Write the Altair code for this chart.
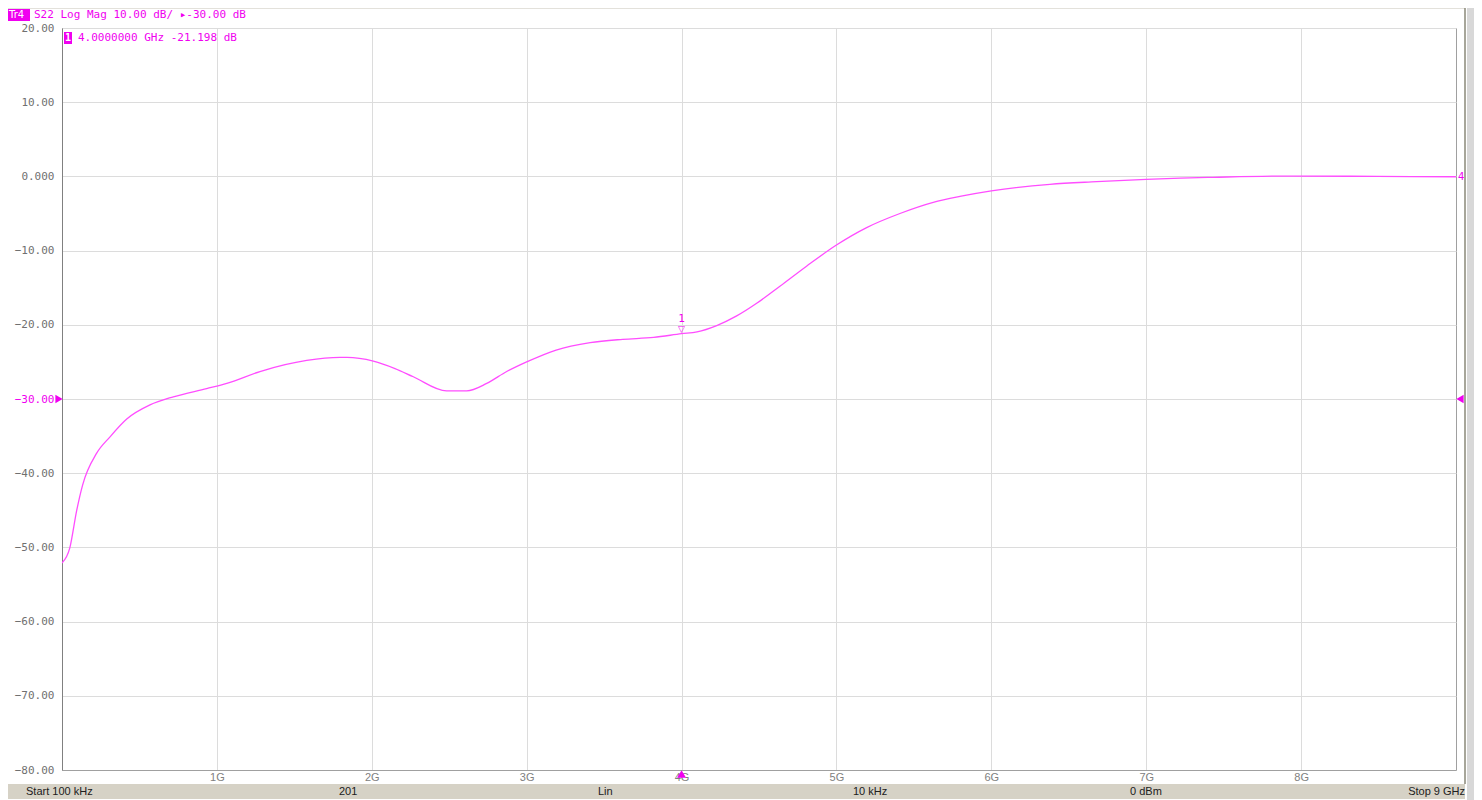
import altair as alt
import pandas as pd

# ---------------- data ----------------
freq_ghz = [0.0001, 0.05, 0.095, 0.133, 0.224, 0.31, 0.418, 0.568, 0.719, 0.934,
            1.064, 1.278, 1.58, 1.795, 1.84, 2.01, 2.15, 2.268, 2.483, 2.613,
            2.742, 2.871, 3.0, 3.19, 3.41, 3.62, 3.82, 4.0, 4.1, 4.227,
            4.356, 4.485, 4.635, 4.807, 5.0, 5.195, 5.41, 5.625, 5.797, 6.0,
            6.378, 6.68, 7.0, 7.22, 7.43, 7.95, 8.49, 9.0]
s22_db = [-52.1, -50.1, -45.0, -41.6, -37.3, -35.1, -32.7, -30.8, -29.7, -28.6,
          -27.9, -26.3, -24.8, -24.4, -24.4, -24.9, -25.9, -27.0, -28.9, -28.9,
          -27.9, -26.3, -25.0, -23.4, -22.4, -21.96, -21.7, -21.198, -20.95, -20.1,
          -18.8, -17.1, -14.8, -12.1, -9.25, -6.9, -5.0, -3.5, -2.7, -1.95,
          -1.07, -0.71, -0.39, -0.22, -0.12, 0.05, 0.0, -0.05]

y_tick_values = [20, 10, 0, -10, -20, -30, -40, -50, -60, -70, -80]
x_tick_values = [1, 2, 3, 4, 5, 6, 7, 8]
ref_level_db = -30.0
marker_freq = 4.0
marker_db = -21.198
marker_number = "1"
trace_number = "4"
trace_tag = "Tr4"
header_text = "S22 Log Mag 10.00 dB/ \u25b8-30.00 dB"
readout_text = "4.0000000 GHz -21.198 dB"
status_texts = ["Start 100 kHz", "201", "Lin", "10 kHz", "0 dBm", "Stop 9 GHz"]

# ---------------- layout / style ----------------
W, H = 1394, 742
TRACE = "#ff4dff"
MAG = "#f000f0"
GRID = "#dcdcdc"
LABEL = "#707070"

trace_df = pd.DataFrame({"f": freq_ghz, "db": s22_db})
one = pd.DataFrame({"k": [0]})

xs = alt.Scale(domain=[0, 9], nice=False, zero=False)
ys = alt.Scale(domain=[-80, 20], nice=False, zero=False)

x_axis = alt.Axis(values=x_tick_values, labelExpr="datum.value + 'G'", title=None,
                  grid=True, gridColor=GRID, ticks=False, domain=True, domainColor="#a0a0a0",
                  labelFont="Liberation Sans", labelFontSize=11, labelColor="#808080",
                  labelPadding=1, labelFlush=False)
y_axis = alt.Axis(values=y_tick_values,
                  labelExpr="datum.value == 0 ? '0.000' : format(datum.value, '.2f')",
                  title=None, grid=True, gridColor=GRID, ticks=False, domain=True,
                  domainColor="#808080", labelFont="DejaVu Sans Mono", labelFontSize=11,
                  labelColor={"condition": {"test": "datum.value == -30", "value": MAG},
                              "value": LABEL},
                  labelPadding=8, labelFlush=False)

base_x = alt.X("f:Q", scale=xs, axis=x_axis)
base_y = alt.Y("db:Q", scale=ys, axis=y_axis)

line = alt.Chart(trace_df).mark_line(color=TRACE, strokeWidth=1.3, interpolate="monotone",
                                     clip=True).encode(x=base_x, y=base_y)

last_df = trace_df.tail(1)
trace_lbl = alt.Chart(last_df).mark_text(text=trace_number, color=MAG, align="left", dx=2,
                                         font="DejaVu Sans", fontSize=10).encode(
    x=alt.X("f:Q", scale=xs), y=alt.Y("db:Q", scale=ys))

mk_df = pd.DataFrame({"f": [marker_freq], "db": [marker_db]})
mk_tri = alt.Chart(mk_df).mark_text(text="\u25bd", color=MAG, dy=-5, fontSize=9,
                                    font="DejaVu Sans").encode(
    x=alt.X("f:Q", scale=xs), y=alt.Y("db:Q", scale=ys))
mk_num = alt.Chart(mk_df).mark_text(text=marker_number, color=MAG, dy=-15, fontSize=11,
                                    font="DejaVu Sans Mono").encode(
    x=alt.X("f:Q", scale=xs), y=alt.Y("db:Q", scale=ys))
mk_bottom = alt.Chart(mk_df).mark_point(shape="triangle-up", filled=True, color=MAG,
                                        opacity=1, size=80).encode(
    x=alt.X("f:Q", scale=xs), y=alt.value(H + 4))

ref_df = pd.DataFrame({"db": [ref_level_db]})
ref_left = alt.Chart(ref_df).mark_point(shape="triangle-right", filled=True, color=MAG,
                                        opacity=1, size=70).encode(
    x=alt.value(-3), y=alt.Y("db:Q", scale=ys))
ref_right = alt.Chart(ref_df).mark_point(shape="triangle-left", filled=True, color=MAG,
                                         opacity=1, size=70).encode(
    x=alt.value(W + 4), y=alt.Y("db:Q", scale=ys))

# header
tag_box = alt.Chart(one).mark_rect(color=MAG).encode(
    x=alt.value(-54), x2=alt.value(-32), y=alt.value(-19), y2=alt.value(-7))
tag_txt = alt.Chart(one).mark_text(text=trace_tag, color="white", align="left",
                                   baseline="middle", font="DejaVu Sans", fontSize=10).encode(
    x=alt.value(-53), y=alt.value(-13))
head_txt = alt.Chart(one).mark_text(text=header_text, color=MAG, align="left",
                                    baseline="middle", font="DejaVu Sans Mono",
                                    fontSize=11).encode(x=alt.value(-28), y=alt.value(-13))
top_line = alt.Chart(one).mark_rule(color="#c8c4b8", strokeWidth=1).encode(
    x=alt.value(-54), x2=alt.value(W + 9), y=alt.value(-20))
right_line = alt.Chart(one).mark_rule(color="#8a8878", strokeWidth=1.5).encode(
    x=alt.value(W + 9), y=alt.value(-20), y2=alt.value(H + 14))
right_band = alt.Chart(one).mark_rect(color="#d8d8d8").encode(
    x=alt.value(W + 11), x2=alt.value(W + 20), y=alt.value(-28), y2=alt.value(H + 40))

# marker readout
rd_box = alt.Chart(one).mark_rect(color=MAG).encode(
    x=alt.value(2), x2=alt.value(10), y=alt.value(4), y2=alt.value(16))
rd_num = alt.Chart(one).mark_text(text=marker_number, color="white", baseline="middle",
                                  font="DejaVu Sans Mono", fontSize=10,
                                  fontWeight="bold").encode(x=alt.value(6), y=alt.value(10))
rd_txt = alt.Chart(one).mark_text(text=readout_text, color=MAG, align="left",
                                  baseline="middle", font="DejaVu Sans Mono",
                                  fontSize=11).encode(x=alt.value(16), y=alt.value(10))

# status bar
status_bar = alt.Chart(one).mark_rect(color="#d6d2c6").encode(
    x=alt.value(-54), x2=alt.value(W + 9), y=alt.value(H + 14), y2=alt.value(H + 29))
status_x = [-36, 277, 536, 791, 1068, 1403]
status_align = ["left", "left", "left", "left", "left", "right"]
status_layers = []
for txt, px, al in zip(status_texts, status_x, status_align):
    status_layers.append(
        alt.Chart(one).mark_text(text=txt, color="#202020", align=al, baseline="middle",
                                 font="Liberation Sans", fontSize=11).encode(
            x=alt.value(px), y=alt.value(H + 21.5)))

chart = alt.layer(
    right_band, status_bar, top_line, right_line, line, trace_lbl, mk_tri, mk_num,
    mk_bottom, ref_left, ref_right, tag_box, tag_txt, head_txt, rd_box, rd_num, rd_txt,
    *status_layers
).properties(
    width=W, height=H,
    autosize=alt.AutoSizeParams(type="none"),
    padding={"left": 54, "top": 20, "right": 18, "bottom": 30},
    background="white",
).configure_view(stroke="#a0a0a0", strokeWidth=1)

chart.save("out.html", embed_options={"renderer": "svg", "actions": False})
